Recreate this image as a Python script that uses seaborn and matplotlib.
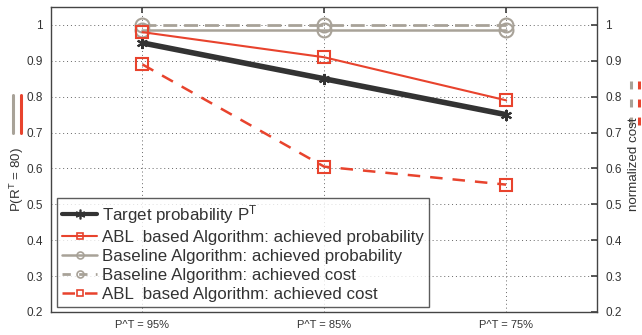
import matplotlib
matplotlib.use("Agg")
import matplotlib.pyplot as plt
import seaborn as sns
import pandas as pd
from matplotlib.lines import Line2D

# data
categories = ["P^T = 95%", "P^T = 85%", "P^T = 75%"]
target_prob = [0.95, 0.85, 0.75]
abl_prob = [0.98, 0.91, 0.79]
baseline_prob = [0.985, 0.985, 0.985]
baseline_cost = [1.0, 1.0, 1.0]
abl_cost = [0.89, 0.605, 0.555]
yticks = [0.2, 0.3, 0.4, 0.5, 0.6, 0.7, 0.8, 0.9, 1.0]

RED = "#e8432d"
GRAY = "#a8a298"
DARK = "#333333"
TXT = "#333333"
ASTERISK = (6, 2, 0)

sns.set_theme(style="white")
plt.rcParams['font.family'] = ['Liberation Sans', 'DejaVu Sans']
plt.rcParams['mathtext.default'] = 'regular'

df = pd.DataFrame({"cat": categories, "target": target_prob, "abl_p": abl_prob,
                   "base_p": baseline_prob, "base_c": baseline_cost, "abl_c": abl_cost})

fig = plt.figure(figsize=(6.42, 3.35), dpi=100)
ax = fig.add_axes([0.0802, 0.0687, 0.8498, 0.9103])

series = [
    ("base_c", "Baseline Algorithm: achieved cost", GRAY, (0, (5, 2.5)), "o", 2.0, 10),
    ("base_p", "Baseline Algorithm: achieved probability", GRAY, "-", "o", 1.8, 10),
    ("target", "Target probability P$^T$", DARK, "-", ASTERISK, 4.0, 8),
    ("abl_p", "ABL  based Algorithm: achieved probability", RED, "-", "s", 1.5, 8),
    ("abl_c", "ABL  based Algorithm: achieved cost", RED, (0, (5, 4)), "s", 1.8, 8),
]
lines = {}
for col, lab, c, ls, mk, lw, ms in series:
    sns.lineplot(data=df, x="cat", y=col, ax=ax, color=c, linestyle=ls, linewidth=lw,
                 marker=mk, markersize=ms, markerfacecolor="none", markeredgecolor=c,
                 markeredgewidth=1.5, sort=False)
    lines[col] = (lab, c, ls, mk, lw)

ax.set_xlim(-0.5, 2.5)
ax.set_ylim(0.2, 1.05)
ax.set_yticks(yticks)
ax.set_yticklabels(["0.2", "0.3", "0.4", "0.5", "0.6", "0.7", "0.8", "0.9", "1"])
ax.set_xlabel("")
ax.set_ylabel("")
ax.grid(True, linestyle=(0, (1, 3)), color="#666666", linewidth=0.7)
ax.tick_params(axis="both", direction="in", length=4, color="#444444",
               labelsize=8.5, labelcolor=TXT, top=True, right=True,
               labelright=True, pad=6)
ax.tick_params(axis="x", labelsize=8)
for s in ax.spines.values():
    s.set_color("#444444")
    s.set_linewidth(1.0)

order = ["target", "abl_p", "base_p", "base_c", "abl_c"]
handles = []
for k in order:
    lab, c, ls, mk, lw = lines[k]
    handles.append(Line2D([], [], color=c, linestyle=ls if k != "base_c" else (0, (3, 3)),
                          linewidth=min(lw, 3.0), marker=mk, markersize=5 if mk != ASTERISK else 7,
                          markerfacecolor="none", markeredgecolor=c, markeredgewidth=1.2,
                          label=lab))
leg = ax.legend(handles=handles, loc="lower left", bbox_to_anchor=(0.01, 0.016),
                fontsize=12.15, frameon=True, fancybox=False, handlelength=2.1,
                handletextpad=0.25, borderpad=0.3, labelspacing=0.24, borderaxespad=0)
leg.get_frame().set_edgecolor("#333333")
leg.get_frame().set_linewidth(1.0)
for t in leg.get_texts():
    t.set_color(TXT)

# left axis label with its line keys
fig.text(0.027, 0.463, "P(R$^T$ = 80)", rotation=90, ha="center", va="center",
         fontsize=9.6, color=TXT)
fig.add_artist(Line2D([0.020, 0.020], [0.603, 0.716], color=GRAY, linewidth=2.2))
fig.add_artist(Line2D([0.033, 0.033], [0.603, 0.716], color=RED, linewidth=2.2))

# right axis label with its dashed keys
fig.text(0.987, 0.51, "normalized cost", rotation=90, ha="center", va="center",
         fontsize=9.6, color=TXT)
fig.add_artist(Line2D([0.9825, 0.9825], [0.627, 0.761], color=GRAY, linewidth=2.2,
                      linestyle=(0, (2.6, 3.3))))
fig.add_artist(Line2D([0.9955, 0.9955], [0.627, 0.761], color=RED, linewidth=2.2,
                      linestyle=(0, (2.6, 3.3))))

fig.savefig("out.png", dpi=100)
plt.close(fig)
